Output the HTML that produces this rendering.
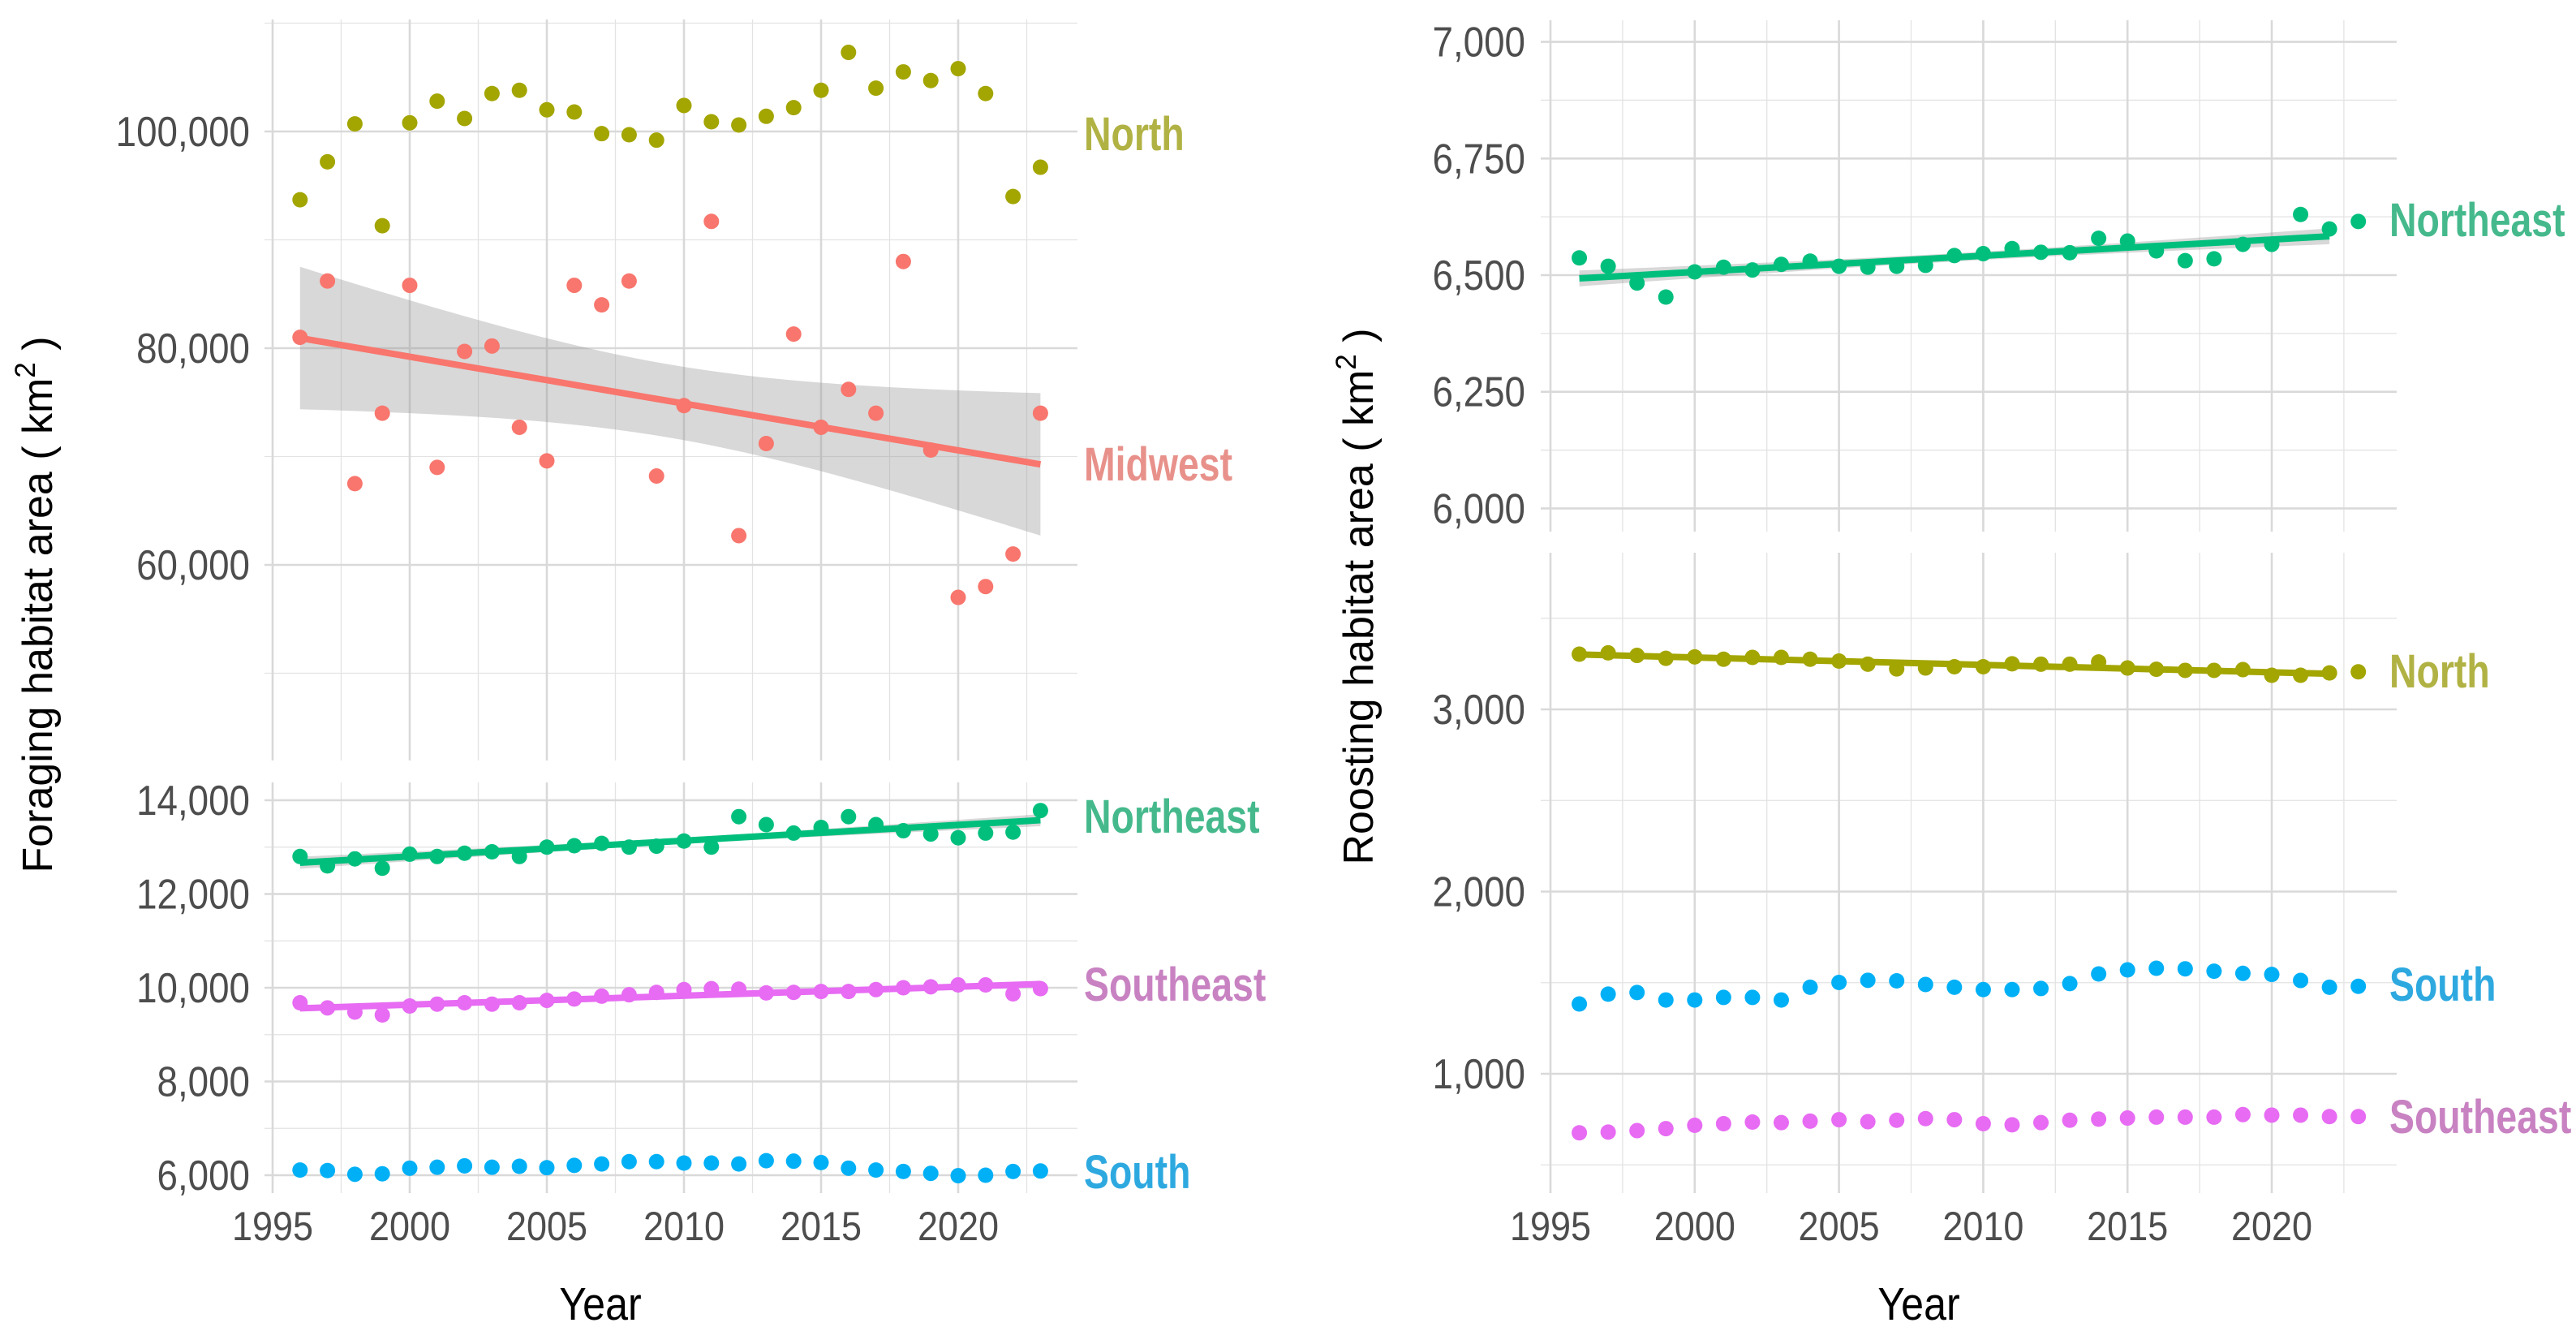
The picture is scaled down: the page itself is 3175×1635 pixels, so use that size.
<!DOCTYPE html>
<html><head><meta charset="utf-8"><style>
html,body{margin:0;padding:0;background:#fff}
svg{display:block}
text{font-family:"Liberation Sans",Arial,sans-serif}
</style></head><body>
<svg id="chart" width="3175" height="1635" viewBox="0 0 3175 1635" xmlns="http://www.w3.org/2000/svg">
<rect width="3175" height="1635" fill="#fff"/>
<text transform="translate(64,745) rotate(-90)" text-anchor="middle" font-size="52" fill="#000">Foraging habitat area ( km<tspan font-size="35" dy="-21">2</tspan><tspan dy="21"> )</tspan></text>
<text transform="translate(1692,735) rotate(-90)" text-anchor="middle" font-size="52" fill="#000">Roosting habitat area ( km<tspan font-size="35" dy="-21">2</tspan><tspan dy="21"> )</tspan></text>
<text transform="translate(740,1626) scale(0.88,1)" text-anchor="middle" font-size="57" fill="#000">Year</text>
<text transform="translate(2365,1626) scale(0.88,1)" text-anchor="middle" font-size="57" fill="#000">Year</text>
</svg>
<script>
const years = [1996,1997,1998,1999,2000,2001,2002,2003,2004,2005,2006,2007,2008,2009,2010,2011,2012,2013,2014,2015,2016,2017,2018,2019,2020,2021,2022,2023];
const xTicks = [1995,2000,2005,2010,2015,2020];
const forNorth = [93700,97200,100700,91300,100800,102800,101200,103500,103800,102000,101800,99800,99700,99200,102400,100900,100600,101400,102200,103800,107300,104000,105500,104700,105800,103500,94000,96700];
const forMidwest = [81000,86200,67500,74000,85800,69000,79700,80200,72700,69600,85800,84000,86200,68200,74700,91700,62700,71200,81300,72700,76200,74000,88000,70600,57000,58000,61000,74000];
const forNortheast = [12800,12600,12750,12550,12850,12800,12870,12900,12800,13000,13030,13080,13000,13020,13130,13000,13650,13480,13300,13420,13650,13480,13350,13280,13200,13300,13320,13780];
const forSoutheast = [9680,9570,9480,9420,9610,9650,9680,9650,9680,9730,9760,9820,9850,9900,9960,9980,9970,9890,9900,9920,9920,9960,10000,10020,10060,10060,9870,9980];
const forSouth = [6110,6100,6020,6030,6150,6170,6200,6170,6190,6160,6210,6240,6290,6290,6260,6260,6240,6310,6300,6270,6150,6110,6080,6040,5990,6000,6080,6090];
const roostNortheast = [6537,6519,6483,6453,6507,6517,6511,6523,6530,6519,6517,6519,6521,6542,6546,6557,6549,6548,6579,6573,6552,6531,6535,6566,6566,6630,6599,6615];
const roostNorth = [3303,3310,3296,3280,3288,3275,3285,3285,3275,3265,3248,3222,3227,3234,3234,3250,3248,3248,3260,3227,3220,3214,3214,3218,3187,3187,3200,3206];
const roostSouth = [1383,1437,1446,1405,1405,1419,1419,1405,1475,1501,1513,1510,1490,1475,1462,1462,1468,1495,1548,1570,1579,1576,1563,1551,1545,1512,1475,1480];
const roostSoutheast = [676,680,688,699,717,726,735,732,740,748,737,745,754,748,726,720,732,745,751,757,762,762,762,776,773,773,765,765];
const ticksLeftTop = [60000,80000,100000];
const minorLeftTop = [50000,70000,90000,110000];
const ticksLeftBot = [6000,8000,10000,12000,14000];
const minorLeftBot = [7000,9000,11000,13000];
const ticksRightTop = [6000,6250,6500,6750,7000];
const minorRightTop = [6125,6375,6625,6875];
const ticksRightBot = [1000,2000,3000];
const minorRightBot = [500,1500,2500,3500];

const NS='http://www.w3.org/2000/svg';
const svg=document.getElementById('chart');
function mk(tag,attrs,parent){const e=document.createElementNS(NS,tag);for(const k in attrs)e.setAttribute(k,attrs[k]);(parent||svg).appendChild(e);return e;}
const C={north:'#A3A500',midwest:'#F8766D',northeast:'#00BF7D',south:'#00B0F6',southeast:'#E76BF3'};
const LC={north:'#B1B244',midwest:'#E8918B',northeast:'#45B98C',south:'#2EA9E0',southeast:'#C882C2'};

function lin(d0,r0,d1,r1){return v=>r0+(v-d0)*(r1-r0)/(d1-d0);}
const xL=lin(1995,336,2020,336+25*33.8);
const xR=lin(1995,1911,2020,1911+25*35.56);
const yLT=lin(100000,162,80000,429);
const yLB=lin(14000,986,12000,1101.5);
const yRT=lin(6500,339,6250,482.7);
const yRB=lin(1000,1323,2000,1098.5);

function fmt(v){return v.toLocaleString('en-US');}

function panel(name,x,y,x0,x1,y0,y1,ticks,minor,labelRight,showX){
  const g=mk('g',{});
  
  
  minor.forEach(v=>{const l=mk('line',{x1:x0,x2:x1,y1:y(v),y2:y(v),stroke:'#E3E3E3','stroke-width':1.3},g);
    });
  for(let yr=1997.5;yr<=2022.5;yr+=5){const l=mk('line',{x1:x(yr),x2:x(yr),y1:y0,y2:y1,stroke:'#E3E3E3','stroke-width':1.3},g);
    }
  ticks.forEach(v=>{const l=mk('line',{x1:x0,x2:x1,y1:y(v),y2:y(v),stroke:'#D9D9D9','stroke-width':2.6},g);
    
    const t=mk('text',{transform:'translate('+labelRight+','+(y(v)+18)+') scale(0.88,1)','text-anchor':'end','font-size':52,fill:'#4D4D4D'},g);
    t.textContent=fmt(v);});
  xTicks.forEach(v=>{const l=mk('line',{x1:x(v),x2:x(v),y1:y0,y2:y1,stroke:'#D9D9D9','stroke-width':2.6},g);
    
    if(showX){const t=mk('text',{transform:'translate('+x(v)+',1528) scale(0.9,1)','text-anchor':'middle','font-size':50,fill:'#4D4D4D'},g);
      t.textContent=v;}});
}

function regress(xs,ys){const n=xs.length;const mx=xs.reduce((a,b)=>a+b)/n,my=ys.reduce((a,b)=>a+b)/n;
  let sxx=0,sxy=0;for(let i=0;i<n;i++){sxx+=(xs[i]-mx)**2;sxy+=(xs[i]-mx)*(ys[i]-my);}
  const b=sxy/sxx,a=my-b*mx;let sse=0;for(let i=0;i<n;i++)sse+=(ys[i]-a-b*xs[i])**2;
  const s=Math.sqrt(sse/(n-2));return {a,b,mx,sxx,s,n};}

function series(key,vals,x,y,fit,fitN){
  const g=mk('g',{});
  
  
  if(fit){const n=fitN||vals.length;const xs=years.slice(0,n),ys=vals.slice(0,n);const r=regress(xs,ys);const t=2.05;
    const up=[],lo=[];for(let i=0;i<=40;i++){const xv=xs[0]+(xs[n-1]-xs[0])*i/40;const f=r.a+r.b*xv;
      const se=r.s*Math.sqrt(1/r.n+(xv-r.mx)**2/r.sxx);up.push([x(xv),y(f+t*se)]);lo.push([x(xv),y(f-t*se)]);}
    const pts=up.concat(lo.reverse()).map(p=>p.join(',')).join(' ');
    const band=mk('polygon',{points:pts,fill:'#999','fill-opacity':0.38},g);
    
    vals.forEach((v,i)=>{const c=mk('circle',{cx:x(years[i]),cy:y(v),r:9.5,fill:C[key]},g);
      });
    const ln=mk('line',{x1:x(xs[0]),y1:y(r.a+r.b*xs[0]),x2:x(xs[n-1]),y2:y(r.a+r.b*xs[n-1]),stroke:C[key],'stroke-width':8},g);
    
  } else {
    vals.forEach((v,i)=>{const c=mk('circle',{cx:x(years[i]),cy:y(v),r:9.5,fill:C[key]},g);
      });
  }
}
function label(key,text,lx,ly){const t=mk('text',{transform:'translate('+lx+','+(ly+21)+') scale(0.8,1)','font-size':58,'font-weight':'bold',fill:LC[key]});
  t.textContent=text;}

panel('foraging-top',xL,yLT,326,1328,24,937,ticksLeftTop,minorLeftTop,308,false);
panel('foraging-bottom',xL,yLB,326,1328,964,1470,ticksLeftBot,minorLeftBot,308,true);
panel('roosting-top',xR,yRT,1899,2954,25,655,ticksRightTop,minorRightTop,1880,false);
panel('roosting-bottom',xR,yRB,1899,2954,681,1470,ticksRightBot,minorRightBot,1880,true);

series('north',forNorth,xL,yLT,false);
series('midwest',forMidwest,xL,yLT,true);
series('northeast',forNortheast,xL,yLB,true);
series('southeast',forSoutheast,xL,yLB,true);
series('south',forSouth,xL,yLB,false);
series('northeast',roostNortheast,xR,yRT,true,27);
series('north',roostNorth,xR,yRB,true,27);
series('south',roostSouth,xR,yRB,false);
series('southeast',roostSoutheast,xR,yRB,false);

label('north','North',1336,164);
label('midwest','Midwest',1336,571);
label('northeast','Northeast',1336,1005);
label('southeast','Southeast',1336,1212);
label('south','South',1336,1443);
label('northeast','Northeast',2945,270);
label('north','North',2945,826);
label('south','South',2945,1212);
label('southeast','Southeast',2945,1375);
</script>
</body></html>
